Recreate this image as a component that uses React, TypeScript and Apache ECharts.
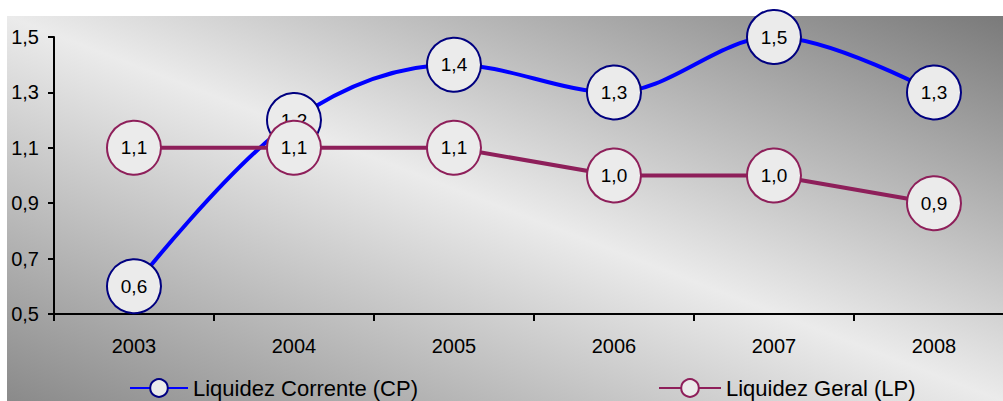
import React, { useEffect, useRef } from "react";
import * as echarts from "echarts";

const categories = ["2003", "2004", "2005", "2006", "2007", "2008"];
const correnteName = "Liquidez Corrente (CP)";
const geralName = "Liquidez Geral (LP)";
const corrente = [0.6, 1.2, 1.4, 1.3, 1.5, 1.3];
const geral = [1.1, 1.1, 1.1, 1.0, 1.0, 0.9];
const yTicks = [0.5, 0.7, 0.9, 1.1, 1.3, 1.5];

const FONT = "'Liberation Sans', Arial, sans-serif";
const fmt = (v: number) => v.toFixed(1).replace(".", ",");

export default function App() {
  const ref = useRef<HTMLDivElement>(null);
  useEffect(() => {
    if (!ref.current) return;
    const chart = echarts.init(ref.current, null, { renderer: "svg" });
    chart.setOption({
      animation: false,
      graphic: [
        {
          type: "rect",
          left: 7,
          top: 16,
          z: -10,
          silent: true,
          shape: { width: 996, height: 385 },
          style: {
            fill: new echarts.graphic.LinearGradient(1, 0, 0, 1, [
              { offset: 0, color: "#7a7a7a" },
              { offset: 0.5, color: "#ebebeb" },
              { offset: 1, color: "#8a8a8a" },
            ]),
          },
        },
      ],
      grid: { left: 54, top: 37, width: 960, height: 277, containLabel: false },
      legend: [
        {
          data: [correnteName],
          left: 124,
          top: 372,
          itemWidth: 58,
          itemHeight: 22,
          textStyle: { fontSize: 22, fontFamily: FONT, color: "#000" },
        },
        {
          data: [geralName],
          left: 653,
          top: 372,
          itemWidth: 62,
          itemHeight: 22,
          textStyle: { fontSize: 22, fontFamily: FONT, color: "#000" },
        },
      ],
      xAxis: {
        type: "category",
        data: categories,
        boundaryGap: true,
        axisLine: { lineStyle: { color: "#000", width: 2 } },
        axisTick: { show: true, length: 7, lineStyle: { color: "#000", width: 2 } },
        axisLabel: { fontSize: 20, fontFamily: FONT, color: "#000", margin: 22 },
        splitLine: { show: false },
      },
      yAxis: {
        type: "value",
        min: 0.5,
        max: 1.5,
        axisLine: { show: true, lineStyle: { color: "#000", width: 2 } },
        axisTick: { show: true, length: 6, customValues: yTicks, lineStyle: { color: "#000", width: 2 } },
        axisLabel: {
          fontSize: 20,
          fontFamily: FONT,
          color: "#000",
          margin: 15,
          customValues: yTicks,
          formatter: (v: number) => fmt(v),
        },
        splitLine: { show: false },
      },
      series: [
        {
          name: correnteName,
          type: "line",
          data: corrente,
          smooth: 0.35,
          z: 2,
          symbol: "circle",
          symbolSize: 54,
          lineStyle: { color: "#0000ff", width: 4 },
          itemStyle: { color: "#ebebeb", borderColor: "#000080", borderWidth: 2 },
          label: {
            show: true,
            position: "inside",
            fontSize: 19,
            fontFamily: FONT,
            color: "#000",
            formatter: (p: any) => fmt(p.value),
          },
        },
        {
          name: geralName,
          type: "line",
          data: geral,
          z: 3,
          symbol: "circle",
          symbolSize: 54,
          lineStyle: { color: "#8e1f5a", width: 4 },
          itemStyle: { color: "#ebebeb", borderColor: "#8e1f5a", borderWidth: 2 },
          label: {
            show: true,
            position: "inside",
            fontSize: 19,
            fontFamily: FONT,
            color: "#000",
            formatter: (p: any) => fmt(p.value),
          },
        },
      ],
    });
    return () => chart.dispose();
  }, []);
  return (
    <div
      style={{ position: "absolute", left: 0, top: 0, width: 1003, height: 401, overflow: "hidden", background: "#fff" }}
    >
      <div ref={ref} style={{ width: 1020, height: 401 }} />
    </div>
  );
}
